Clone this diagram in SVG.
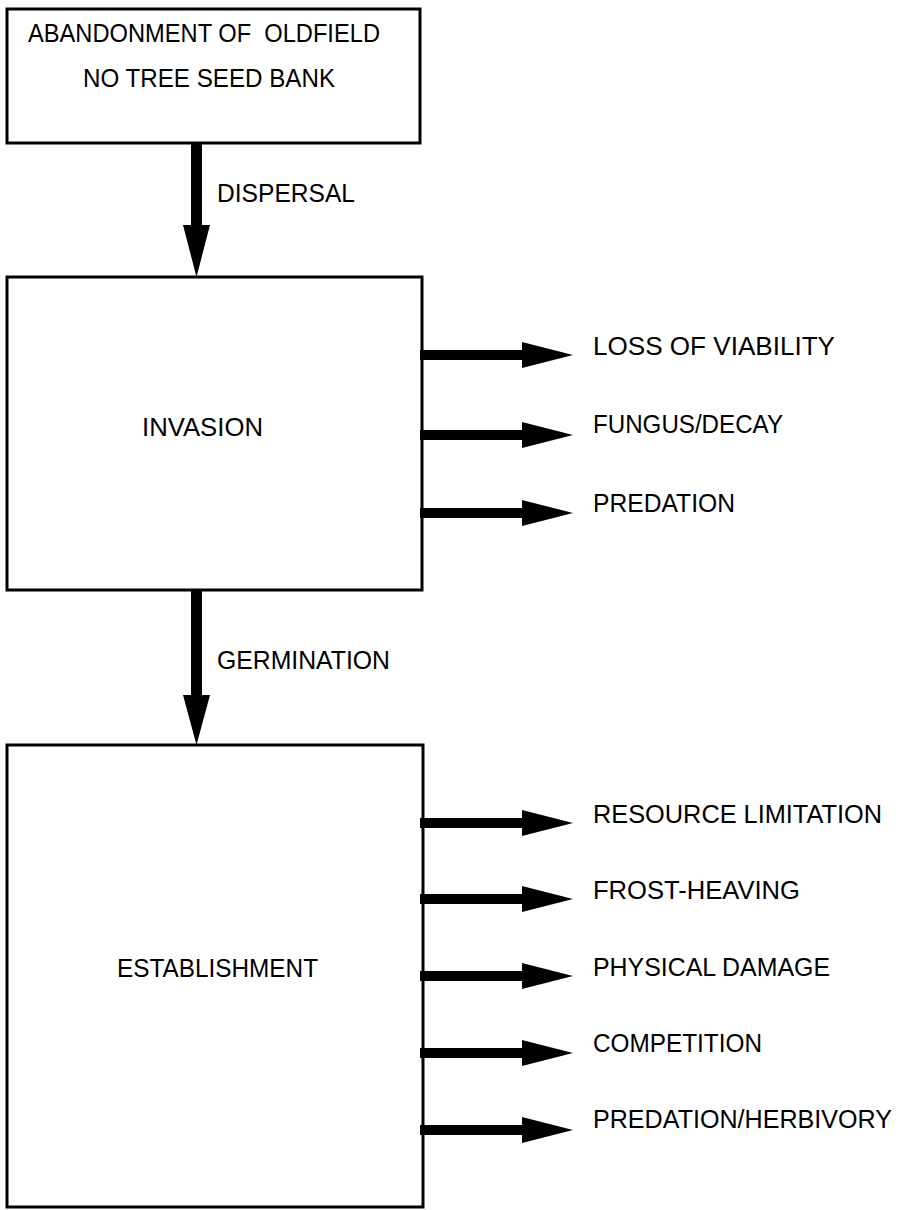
<svg xmlns="http://www.w3.org/2000/svg" width="902" height="1210" viewBox="0 0 902 1210">
  <style>
    .box { fill: #ffffff; stroke: #000000; stroke-width: 3; }
    .arrow { fill: #000000; stroke: none; }
    text { font-family: "Liberation Sans", Arial, sans-serif; font-size: 25px; fill: #000000; }
  </style>
  <rect x="0" y="0" width="902" height="1210" fill="#ffffff"/>
  <g id="node-abandonment">
    <rect class="box" x="7" y="9" width="413" height="134"/>
    <text x="28" y="42" textLength="352" lengthAdjust="spacingAndGlyphs">ABANDONMENT OF&#160; OLDFIELD</text>
    <text x="83" y="87" textLength="252" lengthAdjust="spacingAndGlyphs">NO TREE SEED BANK</text>
  </g>
  <g id="node-invasion">
    <rect class="box" x="7" y="277" width="415" height="313"/>
    <text x="142" y="436" textLength="121" lengthAdjust="spacingAndGlyphs">INVASION</text>
  </g>
  <g id="node-establishment">
    <rect class="box" x="7" y="745" width="416" height="462"/>
    <text x="117" y="977" textLength="201" lengthAdjust="spacingAndGlyphs">ESTABLISHMENT</text>
  </g>
  <g id="connectors">
    <path class="arrow" d="M191,143 H202 V225 H210 L196.5,277 L183,225 H191 Z"/>
    <path class="arrow" d="M191,590 H202 V695 H210 L196.5,745 L183,695 H191 Z"/>
    <path class="arrow" d="M420,350 H522 V342 L573,355 L522,368 V360 H420 Z"/>
    <path class="arrow" d="M420,430 H522 V422 L573,435 L522,448 V440 H420 Z"/>
    <path class="arrow" d="M420,508 H522 V500 L573,513 L522,526 V518 H420 Z"/>
    <path class="arrow" d="M420,818 H522 V810 L573,823 L522,836 V828 H420 Z"/>
    <path class="arrow" d="M420,894 H522 V886 L573,899 L522,912 V904 H420 Z"/>
    <path class="arrow" d="M420,971 H522 V963 L573,976 L522,989 V981 H420 Z"/>
    <path class="arrow" d="M420,1048 H522 V1040 L573,1053 L522,1066 V1058 H420 Z"/>
    <path class="arrow" d="M420,1125 H522 V1117 L573,1130 L522,1143 V1135 H420 Z"/>
  </g>
  <g id="labels">
    <text x="217" y="202" textLength="138" lengthAdjust="spacingAndGlyphs">DISPERSAL</text>
    <text x="217" y="669" textLength="173" lengthAdjust="spacingAndGlyphs">GERMINATION</text>
    <text x="593" y="355" textLength="242" lengthAdjust="spacingAndGlyphs">LOSS OF VIABILITY</text>
    <text x="593" y="433" textLength="190" lengthAdjust="spacingAndGlyphs">FUNGUS/DECAY</text>
    <text x="593" y="512" textLength="142" lengthAdjust="spacingAndGlyphs">PREDATION</text>
    <text x="593" y="823" textLength="289" lengthAdjust="spacingAndGlyphs">RESOURCE LIMITATION</text>
    <text x="593" y="899" textLength="207" lengthAdjust="spacingAndGlyphs">FROST-HEAVING</text>
    <text x="593" y="976" textLength="237" lengthAdjust="spacingAndGlyphs">PHYSICAL DAMAGE</text>
    <text x="593" y="1052" textLength="169" lengthAdjust="spacingAndGlyphs">COMPETITION</text>
    <text x="593" y="1128" textLength="299" lengthAdjust="spacingAndGlyphs">PREDATION/HERBIVORY</text>
  </g>
</svg>
